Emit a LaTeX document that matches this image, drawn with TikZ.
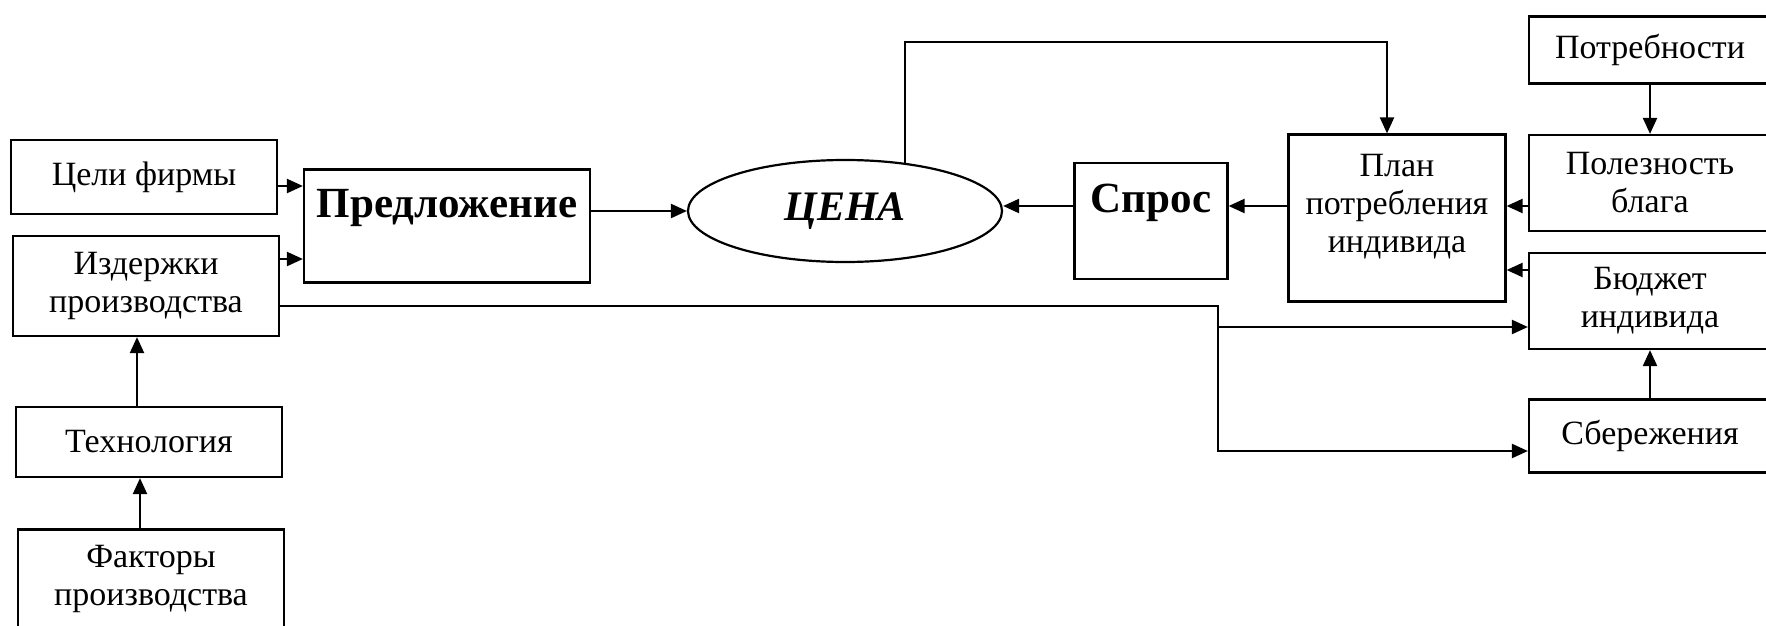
\documentclass[tikz,border=0pt]{standalone}
\usepackage{fontspec}
\setmainfont{Liberation Serif}
\usetikzlibrary{arrows.meta,shapes.geometric}

\begin{document}
\begin{tikzpicture}[x=0.5pt,y=-0.5pt,
  box/.style={draw,line width=1.1pt,minimum width=133pt,align=center,inner sep=0pt,
    font=\fontsize{17}{19}\selectfont},
  big/.style={font=\fontsize{21.5}{24}\selectfont\bfseries},
  arr/.style={line width=1.1pt,-{Triangle[length=8pt,width=7pt]}}]
\useasboundingbox (0,0) rectangle (1766,626);
\clip (0,0) rectangle (1766,626);
% firm side
\node[box,minimum height=37pt] (goal) at (144,177) {Цели фирмы};
\node[box,minimum height=50pt] (cost) at (146,286) {Издержки\\производства};
\node[box,minimum height=35pt] (tech) at (149,442) {Технология};
\node[box,minimum height=49.5pt] (fact) at (151,579) {Факторы\\производства};
% market
\node[box,minimum width=143pt,minimum height=56.5pt] (pred) at (447,226) {};
\node[big] (predtxt) at (447,208) {Предложение};
\node[draw,line width=1.1pt,ellipse,minimum width=157pt,minimum height=51pt,
  font=\fontsize{21}{24}\selectfont\bfseries\itshape] (price) at (845,211) {ЦЕНА};
\node[box,minimum width=76.5pt,minimum height=58pt] (dem) at (1151,221) {};
\node[big] (demtxt) at (1151,203) {Спрос};
% consumer side
\node[box,minimum width=108.5pt,minimum height=83.5pt] (plan) at (1397,218) {};
\node[align=center,font=\fontsize{17}{19}\selectfont] (plantxt) at (1397,207) {План\\потребления\\индивида};
\node[box,minimum width=121pt,minimum height=33.5pt] (need) at (1650,50) {Потребности};
\node[box,minimum width=121pt,minimum height=48pt] (util) at (1650,183) {Полезность\\блага};
\node[box,minimum width=121pt,minimum height=48pt] (budg) at (1650,301) {Бюджет\\индивида};
\node[box,minimum width=121pt,minimum height=36.5pt] (save) at (1650,436) {Сбережения};
\coordinate (ptop) at (904,42);
\coordinate (cj) at (1218,327);

\draw[arr] ([yshift=-4.5pt]goal.east) -- ([yshift=-4.5pt]goal.east -| pred.west);
\draw[arr] ([yshift=13.5pt]cost.east) -- ([yshift=13.5pt]cost.east -| pred.west);
\draw[arr] ([xshift=-6pt]tech.north) -- ([xshift=-6pt]tech.north |- cost.south);
\draw[arr] ([xshift=-5.5pt]fact.north) -- ([xshift=-5.5pt]fact.north |- tech.south);
\draw[arr] (pred.east |- price.west) -- (price.west);
\draw[arr] ([yshift=7.5pt]dem.west) -- ([yshift=7.5pt]dem.west -| price.east);
\draw[arr] ([yshift=6pt]plan.west) -- ([yshift=6pt]plan.west -| dem.east);
\draw[arr] ([yshift=-11.5pt]util.west) -- ([yshift=-11.5pt]util.west -| plan.east);
\draw[arr] ([yshift=15.5pt]budg.west) -- ([yshift=15.5pt]budg.west -| plan.east);
\draw[arr] (need) -- (util);
\draw[arr] (save) -- (budg);
\draw[arr] (price.39) -- (price.39 |- ptop) -| ([xshift=-5pt]plan.north);
\draw[arr] ([yshift=-10pt]cost.east) -| (cj) |- ([yshift=-7.5pt]save.west);
\draw[arr] (cj) -- (cj -| budg.west);
\end{tikzpicture}
\end{document}
